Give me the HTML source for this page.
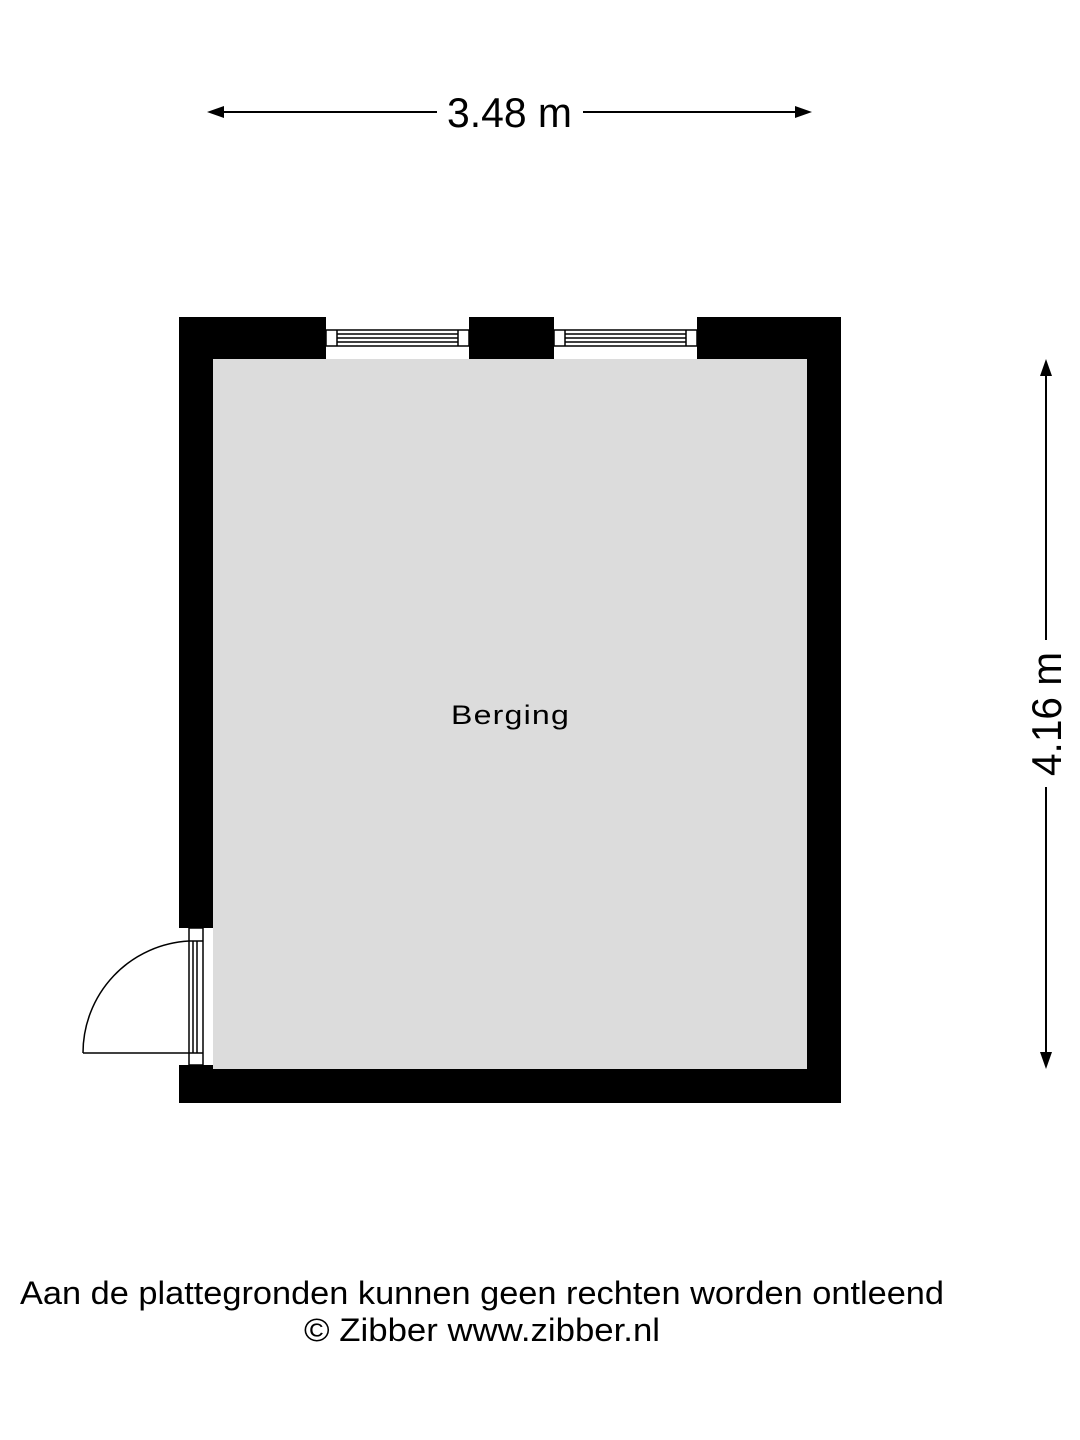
<!DOCTYPE html>
<html><head><meta charset="utf-8"><style>
html,body{margin:0;padding:0;background:#fff;}
svg{display:block;}
text{font-family:"Liberation Sans",sans-serif;fill:#000;}
</style></head><body>
<svg width="1080" height="1440" viewBox="0 0 1080 1440" xmlns="http://www.w3.org/2000/svg">
<rect width="1080" height="1440" fill="#fff"/>
<rect x="213" y="359" width="594" height="710" fill="#dcdcdc"/>
<rect x="179" y="317" width="147" height="42" fill="#000"/>
<rect x="469" y="317" width="85" height="42" fill="#000"/>
<rect x="697" y="317" width="144" height="42" fill="#000"/>
<rect x="807" y="317" width="34" height="786" fill="#000"/>
<rect x="179" y="317" width="34" height="611" fill="#000"/>
<rect x="179" y="1065" width="34" height="38" fill="#000"/>
<rect x="213" y="1069" width="628" height="34" fill="#000"/>
<g fill="none" stroke="#000" stroke-width="1.5">
<rect x="326" y="330" width="143" height="16"/>
<line x1="337" y1="330" x2="337" y2="346"/><line x1="458" y1="330" x2="458" y2="346"/>
<line x1="337" y1="334" x2="458" y2="334"/><line x1="337" y1="338" x2="458" y2="338"/><line x1="337" y1="342" x2="458" y2="342"/>
<rect x="554" y="330" width="143" height="16"/>
<line x1="565" y1="330" x2="565" y2="346"/><line x1="686" y1="330" x2="686" y2="346"/>
<line x1="565" y1="334" x2="686" y2="334"/><line x1="565" y1="338" x2="686" y2="338"/><line x1="565" y1="342" x2="686" y2="342"/>
<rect x="189" y="928" width="14" height="137"/>
<line x1="189" y1="941" x2="203" y2="941"/><line x1="189" y1="1053" x2="203" y2="1053"/>
<line x1="193" y1="941" x2="193" y2="1053"/><line x1="197" y1="941" x2="197" y2="1053"/>
<line x1="83" y1="1053" x2="189" y2="1053"/>
<path d="M189 941 A112 112 0 0 0 83 1053"/>
</g>
<g stroke="#000" stroke-width="2">
<line x1="222" y1="112" x2="437" y2="112"/><line x1="583" y1="112" x2="798" y2="112"/>
<line x1="1046" y1="370" x2="1046" y2="640"/><line x1="1046" y1="787" x2="1046" y2="1058"/>
</g>
<polygon points="207,112 224,106 224,118" fill="#000"/>
<polygon points="812,112 795,106 795,118" fill="#000"/>
<polygon points="1046,359 1040,376 1052,376" fill="#000"/>
<polygon points="1046,1069 1040,1052 1052,1052" fill="#000"/>
<text x="447" y="127" font-size="42" textLength="125" lengthAdjust="spacingAndGlyphs">3.48 m</text>
<text transform="translate(1061,776) rotate(-90)" font-size="42" textLength="124" lengthAdjust="spacingAndGlyphs">4.16 m</text>
<text x="451" y="724" font-size="27" textLength="119" lengthAdjust="spacingAndGlyphs" letter-spacing="1">Berging</text>
<text x="20" y="1304" font-size="32" textLength="924" lengthAdjust="spacingAndGlyphs">Aan de plattegronden kunnen geen rechten worden ontleend</text>
<text x="304" y="1341" font-size="32" textLength="356" lengthAdjust="spacingAndGlyphs">© Zibber www.zibber.nl</text>
</svg>
</body></html>
